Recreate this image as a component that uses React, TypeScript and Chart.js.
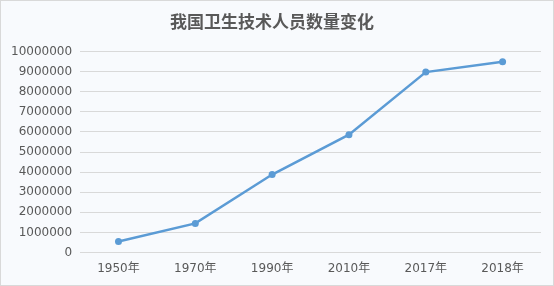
import React, { useEffect, useRef } from "react";
import { Chart, registerables } from "chart.js";

Chart.register(...registerables);

const categories = ["1950年", "1970年", "1990年", "2010年", "2017年", "2018年"];
const staffCounts = [555000, 1450000, 3880000, 5860000, 8970000, 9480000];
const yTicks = { min: 0, max: 10000000, step: 1000000 };
const titleText = "我国卫生技术人员数量变化";

export default function App() {
  const ref = useRef<HTMLCanvasElement>(null);
  useEffect(() => {
    document.body.style.margin = "0";
    const ctx = ref.current!;
    const chart = new Chart(ctx, {
      type: "line",
      data: {
        labels: categories,
        datasets: [
          {
            data: staffCounts,
            borderColor: "#5b9bd5",
            backgroundColor: "#5b9bd5",
            borderWidth: 2.5,
            pointRadius: 3.5,
            pointBorderWidth: 0,
            tension: 0,
          },
        ],
      },
      options: {
        animation: false,
        responsive: false,
        maintainAspectRatio: false,
        layout: { padding: { left: 2, right: 12, top: 8, bottom: 8 } },
        plugins: {
          legend: { display: false },
          tooltip: { enabled: false },
          title: {
            display: true,
            text: titleText,
            color: "#595959",
            font: { family: "'Noto Sans CJK SC'", size: 17, weight: "bold" },
            padding: { top: 2, bottom: 20 },
          },
        },
        scales: {
          x: {
            offset: true,
            grid: { display: false },
            border: { display: false },
            ticks: {
              color: "#595959",
              font: { family: "'DejaVu Sans', 'Noto Sans CJK SC'", size: 12 },
              padding: 1,
            },
          },
          y: {
            min: yTicks.min,
            max: yTicks.max,
            grid: { color: "#d9d9d9", drawTicks: false },
            border: { display: false },
            ticks: {
              stepSize: yTicks.step,
              color: "#595959",
              font: { family: "'DejaVu Sans'", size: 12 },
              padding: 8,
              callback: (v: any) => String(v),
            },
          },
        },
      },
    });
    return () => chart.destroy();
  }, []);
  return (
    <div
      style={{
        width: 554,
        height: 286,
        boxSizing: "border-box",
        border: "1px solid #d9d9d9",
        background: "#f8fafd",
      }}
    >
      <canvas ref={ref} width={552} height={284} style={{ display: "block" }} />
    </div>
  );
}
